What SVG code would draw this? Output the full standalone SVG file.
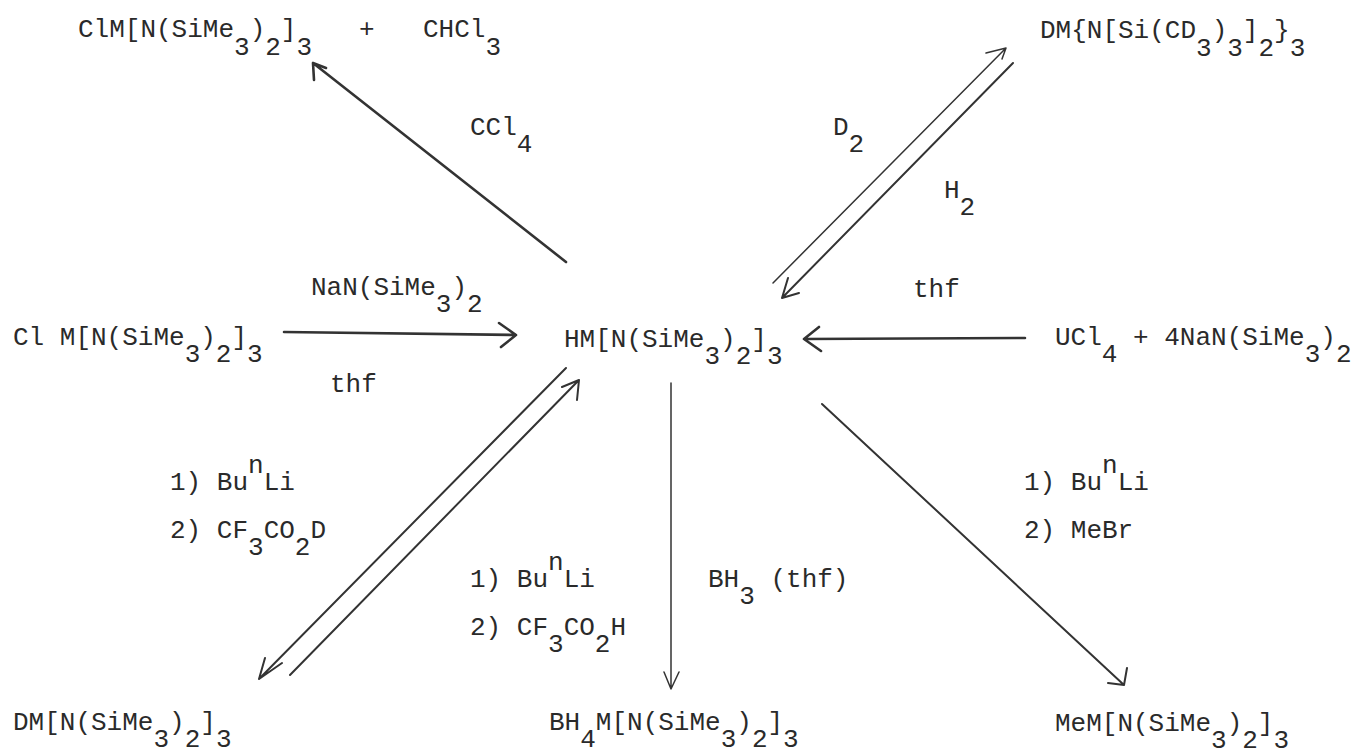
<svg xmlns="http://www.w3.org/2000/svg" width="1360" height="750" viewBox="0 0 1360 750">
<style>
text{font-family:"Liberation Mono","DejaVu Sans Mono",monospace;font-size:26px;fill:#2a2a2a;white-space:pre}
#connectors path{fill:none;stroke:#333;stroke-width:2;stroke-linecap:round;stroke-linejoin:round}
#connectors path.t{stroke-width:1.5}
#connectors path.b{stroke-width:2.6}
</style>
<rect width="1360" height="750" fill="#fff"/>
<g id="connectors">
<path class="b" d="M566 262L313 63M326 68L313 63L314 80"/>
<path class="b" d="M284 332L516 335M499 323L516 335L501 347"/>
<path class="t" d="M773 283L1006 48M986 53L1006 48L1002 59"/>
<path d="M1013 63L782 298M799 293L782 298L788 278"/>
<path class="b" d="M1025 338L804 339M819 327L804 339L821 351"/>
<path d="M566 368L259 679M282 663L259 679L265 658"/>
<path d="M290 675L579 380M562 387L579 380L577 400"/>
<path class="t" d="M671 383L671 689M664 672L671 689L679 672"/>
<path d="M822 404L1124 685M1127 668L1124 685L1108 683"/>
</g>
<g id="n1"><text x="78" y="37">ClM[N(SiMe<tspan dy="18">3</tspan><tspan dy="-18">)</tspan><tspan dy="18">2</tspan><tspan dy="-18">]</tspan><tspan dy="18">3</tspan></text><text x="359" y="37">+</text><text x="423" y="37">CHCl<tspan dy="18">3</tspan></text></g>
<g id="n2"><text x="1040" y="38">DM{N[Si(CD<tspan dy="18">3</tspan><tspan dy="-18">)</tspan><tspan dy="18">3</tspan><tspan dy="-18">]</tspan><tspan dy="18">2</tspan><tspan dy="-18">}</tspan><tspan dy="18">3</tspan></text></g>
<g id="n3"><text x="13" y="345">Cl M[N(SiMe<tspan dy="17">3</tspan><tspan dy="-17">)</tspan><tspan dy="17">2</tspan><tspan dy="-17">]</tspan><tspan dy="17">3</tspan></text></g>
<g id="n4"><text x="564" y="347">HM[N(SiMe<tspan dy="17">3</tspan><tspan dy="-17">)</tspan><tspan dy="17">2</tspan><tspan dy="-17">]</tspan><tspan dy="17">3</tspan></text></g>
<g id="n5"><text x="1055" y="345">UCl<tspan dy="17">4</tspan><tspan dy="-17"> + 4NaN(SiMe</tspan><tspan dy="17">3</tspan><tspan dy="-17">)</tspan><tspan dy="17">2</tspan></text></g>
<g id="n6"><text x="13" y="730">DM[N(SiMe<tspan dy="17">3</tspan><tspan dy="-17">)</tspan><tspan dy="17">2</tspan><tspan dy="-17">]</tspan><tspan dy="17">3</tspan></text></g>
<g id="n7"><text x="549" y="730">BH<tspan dy="17">4</tspan><tspan dy="-17">M[N(SiMe</tspan><tspan dy="17">3</tspan><tspan dy="-17">)</tspan><tspan dy="17">2</tspan><tspan dy="-17">]</tspan><tspan dy="17">3</tspan></text></g>
<g id="n8"><text x="1055" y="731">MeM[N(SiMe<tspan dy="17">3</tspan><tspan dy="-17">)</tspan><tspan dy="17">2</tspan><tspan dy="-17">]</tspan><tspan dy="17">3</tspan></text></g>
<g id="labels">
<text x="470" y="135">CCl<tspan dy="17">4</tspan></text>
<text x="833" y="135">D<tspan dy="17">2</tspan></text>
<text x="944" y="198">H<tspan dy="17">2</tspan></text>
<text x="913" y="297">thf</text>
<text x="311" y="295">NaN(SiMe<tspan dy="17">3</tspan><tspan dy="-17">)</tspan><tspan dy="17">2</tspan></text>
<text x="330" y="392">thf</text>
<text x="170" y="490">1) Bu<tspan dy="-17">n</tspan><tspan dy="17">Li</tspan></text>
<text x="170" y="538">2) CF<tspan dy="17">3</tspan><tspan dy="-17">CO</tspan><tspan dy="17">2</tspan><tspan dy="-17">D</tspan></text>
<text x="470" y="587">1) Bu<tspan dy="-17">n</tspan><tspan dy="17">Li</tspan></text>
<text x="470" y="635">2) CF<tspan dy="17">3</tspan><tspan dy="-17">CO</tspan><tspan dy="17">2</tspan><tspan dy="-17">H</tspan></text>
<text x="708" y="587">BH<tspan dy="17">3</tspan><tspan dy="-17"> (thf)</tspan></text>
<text x="1024" y="490">1) Bu<tspan dy="-17">n</tspan><tspan dy="17">Li</tspan></text>
<text x="1024" y="538">2) MeBr</text>
</g>
</svg>
